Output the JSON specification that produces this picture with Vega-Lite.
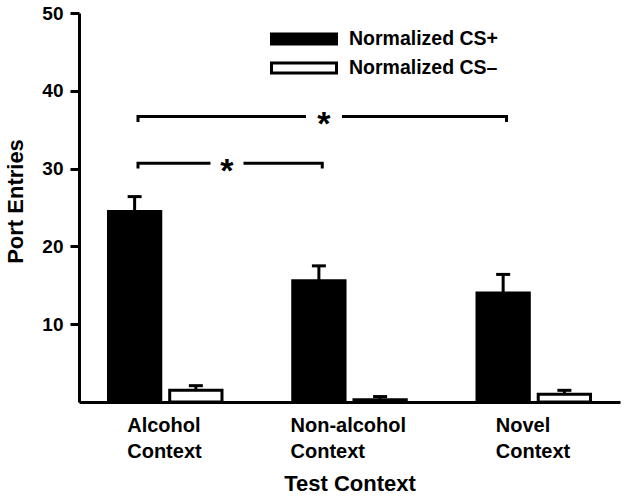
{
  "$schema": "https://vega.github.io/schema/vega-lite/v6.json",
  "autosize": {"type": "none"},
  "padding": {"left": 79, "top": 13, "right": 5, "bottom": 95},
  "width": 541,
  "height": 389,
  "background": "white",
  "config": {
    "font": "Liberation Sans",
    "view": {"stroke": null},
    "axis": {
      "domainColor": "black",
      "domainWidth": 3,
      "tickColor": "black",
      "tickWidth": 3,
      "labelColor": "black",
      "labelFontWeight": "bold",
      "titleColor": "black",
      "titleFontWeight": "bold",
      "grid": false
    }
  },
  "layer": [
    {
      "data": {
        "values": [
          {"context": "Alcohol Context", "series": "Normalized CS+", "mean": 24.5, "upper": 26.4},
          {"context": "Alcohol Context", "series": "Normalized CS–", "mean": 1.5, "upper": 2.1},
          {"context": "Non-alcohol Context", "series": "Normalized CS+", "mean": 15.6, "upper": 17.5},
          {"context": "Non-alcohol Context", "series": "Normalized CS–", "mean": 0.3, "upper": 0.7},
          {"context": "Novel Context", "series": "Normalized CS+", "mean": 14.0, "upper": 16.4},
          {"context": "Novel Context", "series": "Normalized CS–", "mean": 1.0, "upper": 1.5}
        ]
      },
      "layer": [
        {
          "mark": {"type": "bar", "stroke": "black", "strokeWidth": 3},
          "encoding": {
            "x": {
              "field": "context",
              "type": "nominal",
              "scale": {
                "domain": ["Alcohol Context", "Non-alcohol Context", "Novel Context"],
                "paddingInner": 0.384,
                "paddingOuter": 0.16
              },
              "axis": {
                "title": "Test Context",
                "titleFontSize": 22,
                "titlePadding": 12,
                "labelExpr": "split(datum.label, ' ')",
                "labelFontSize": 20,
                "labelLineHeight": 26,
                "labelPadding": 13,
                "labelAngle": 0,
                "labelAlign": "left",
                "labelOffset": {"expr": "datum.value === 'Non-alcohol Context' ? -59 : -38"},
                "labelOverlap": false,
                "ticks": false,
                "tickSize": 0
              }
            },
            "xOffset": {
              "field": "series",
              "type": "nominal",
              "scale": {
                "domain": ["Normalized CS+", "Normalized CS–"],
                "paddingInner": 0.146,
                "paddingOuter": 0
              }
            },
            "y": {
              "field": "mean",
              "type": "quantitative",
              "scale": {"domain": [0, 50], "nice": false},
              "axis": {
                "title": "Port Entries",
                "titleFontSize": 22,
                "titlePadding": 14,
                "titleY": 188,
                "values": [10, 20, 30, 40, 50],
                "tickSize": 9,
                "labelPadding": 7,
                "labelFontSize": 19
              }
            },
            "fill": {
              "field": "series",
              "type": "nominal",
              "scale": {
                "domain": ["Normalized CS+", "Normalized CS–"],
                "range": ["black", "white"]
              },
              "legend": {
                "title": null,
                "orient": "none",
                "legendX": 215,
                "legendY": 16,
                "padding": 0,
                "symbolType": "M-4,-0.62L4,-0.62L4,0.62L-4,0.62Z",
                "symbolSize": 264,
                "symbolStrokeColor": "black",
                "symbolStrokeWidth": 3,
                "symbolOpacity": 1,
                "labelFontSize": 19.5,
                "labelFontWeight": "bold",
                "labelColor": "black",
                "labelOffset": 35,
                "labelLimit": 300,
                "rowPadding": 5
              }
            }
          }
        },
        {
          "mark": {"type": "rule", "color": "black", "strokeWidth": 3},
          "encoding": {
            "x": {"field": "context", "type": "nominal"},
            "xOffset": {"field": "series", "type": "nominal"},
            "y": {"field": "mean", "type": "quantitative"},
            "y2": {"field": "upper"}
          }
        },
        {
          "mark": {"type": "tick", "orient": "horizontal", "color": "black", "size": 14, "thickness": 3, "opacity": 1},
          "encoding": {
            "x": {"field": "context", "type": "nominal"},
            "xOffset": {"field": "series", "type": "nominal"},
            "y": {"field": "upper", "type": "quantitative"}
          }
        }
      ]
    },
    {
      "data": {
        "values": [
          {"bracket": "Alcohol vs Novel", "context": "Alcohol Context", "level": 36.0, "step": 1},
          {"bracket": "Alcohol vs Novel", "context": "Alcohol Context", "level": 36.7, "step": 2},
          {"bracket": "Alcohol vs Novel", "context": "Novel Context", "level": 36.7, "step": 3},
          {"bracket": "Alcohol vs Novel", "context": "Novel Context", "level": 36.0, "step": 4},
          {"bracket": "Alcohol vs Non-alcohol", "context": "Alcohol Context", "level": 30.0, "step": 1},
          {"bracket": "Alcohol vs Non-alcohol", "context": "Alcohol Context", "level": 30.7, "step": 2},
          {"bracket": "Alcohol vs Non-alcohol", "context": "Non-alcohol Context", "level": 30.7, "step": 3},
          {"bracket": "Alcohol vs Non-alcohol", "context": "Non-alcohol Context", "level": 30.0, "step": 4}
        ]
      },
      "mark": {"type": "line", "color": "black", "strokeWidth": 3, "strokeJoin": "miter"},
      "encoding": {
        "x": {"field": "context", "type": "nominal", "bandPosition": 0.26},
        "y": {"field": "level", "type": "quantitative"},
        "detail": {"field": "bracket"},
        "order": {"field": "step", "type": "quantitative"}
      }
    },
    {
      "data": {"values": [{"context": "Non-alcohol Context", "level": 36.7, "label": "*"}]},
      "encoding": {
        "x": {"field": "context", "type": "nominal", "bandPosition": 0.275},
        "y": {"field": "level", "type": "quantitative"}
      },
      "layer": [
        {
          "mark": {"type": "point", "shape": "M-1,-0.25L1,-0.25L1,0.25L-1,0.25Z", "size": 1296, "filled": true, "color": "white", "opacity": 1, "strokeWidth": 0}
        },
        {
          "mark": {"type": "text", "fontSize": 34, "fontWeight": "bold", "color": "black", "baseline": "alphabetic", "dy": 19},
          "encoding": {"text": {"field": "label"}}
        }
      ]
    },
    {
      "data": {"values": [{"context": "Alcohol Context", "level": 30.7, "label": "*"}]},
      "encoding": {
        "x": {"field": "context", "type": "nominal", "bandPosition": 1.044},
        "y": {"field": "level", "type": "quantitative"}
      },
      "layer": [
        {
          "mark": {"type": "point", "shape": "M-1,-0.25L1,-0.25L1,0.25L-1,0.25Z", "size": 1089, "filled": true, "color": "white", "opacity": 1, "strokeWidth": 0}
        },
        {
          "mark": {"type": "text", "fontSize": 34, "fontWeight": "bold", "color": "black", "baseline": "alphabetic", "dy": 19},
          "encoding": {"text": {"field": "label"}}
        }
      ]
    }
  ]
}
